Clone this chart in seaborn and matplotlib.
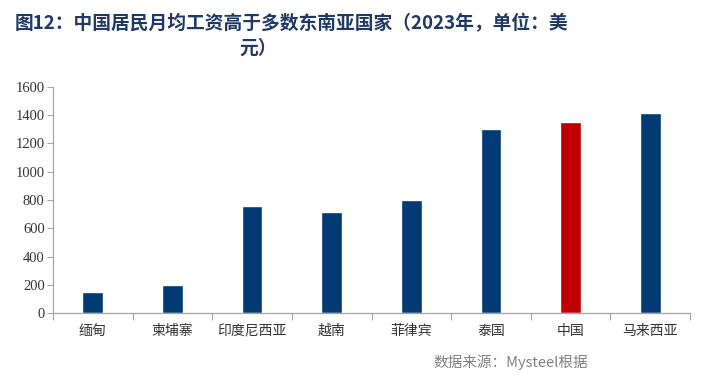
import numpy as np
import pandas as pd
import matplotlib.pyplot as plt
import seaborn as sns

countries = ['缅甸', '柬埔寨', '印度尼西亚', '越南', '菲律宾', '泰国', '中国', '马来西亚']
wages = [150, 200, 760, 712, 800, 1300, 1350, 1415]
bar_colors = ['#023A74'] * 6 + ['#C00000'] + ['#023A74']
y_ticks = [0, 200, 400, 600, 800, 1000, 1200, 1400, 1600]

sns.set_theme(style="white")
plt.rcParams['font.family'] = ['Noto Sans CJK SC', 'DejaVu Sans']

df = pd.DataFrame({'country': countries, 'wage': wages})

fig = plt.figure(figsize=(7.01, 3.87), dpi=100)
ax = fig.add_axes([53 / 701, 1 - 313 / 387, 637 / 701, 226 / 387])

sns.barplot(data=df, x='country', y='wage', hue='country', palette=bar_colors,
            width=0.26, legend=False, ax=ax, saturation=1)

ax.set_ylim(0, 1600)
ax.set_xlim(-0.5, len(countries) - 0.5)
ax.set_yticks(y_ticks)
ax.set_yticklabels([str(v) for v in y_ticks], family=['Liberation Serif'],
                   fontsize=10.5, color='#333333')
ax.set_xlabel('')
ax.set_ylabel('')
ax.tick_params(axis='x', length=0, pad=8, labelsize=10, labelcolor='#333333')
ax.tick_params(axis='y', length=4, width=0.8, color='#A6A6A6', direction='out',
               left=True, pad=2)
# category boundary ticks
ax.set_xticks(np.arange(-0.5, len(countries)), minor=True)
ax.tick_params(axis='x', which='minor', length=5, width=0.8, color='#A6A6A6',
               bottom=True, direction='out')

for side in ['top', 'right']:
    ax.spines[side].set_visible(False)
for side in ['left', 'bottom']:
    ax.spines[side].set_color('#A6A6A6')
    ax.spines[side].set_linewidth(0.9)

fig.text(291 / 701, 1 - 24 / 387, '图12：中国居民月均工资高于多数东南亚国家（2023年，单位：美',
         ha='center', va='center', fontsize=13.5, fontweight='bold', color='#1F3864')
fig.text(258 / 701, 1 - 48 / 387, '元）',
         ha='center', va='center', fontsize=13.5, fontweight='bold', color='#1F3864')
fig.text(433 / 701, 1 - 362 / 387, '数据来源：Mysteel根据',
         ha='left', va='center', fontsize=10.5, color='#808080')

fig.savefig('out.png', dpi=100)
